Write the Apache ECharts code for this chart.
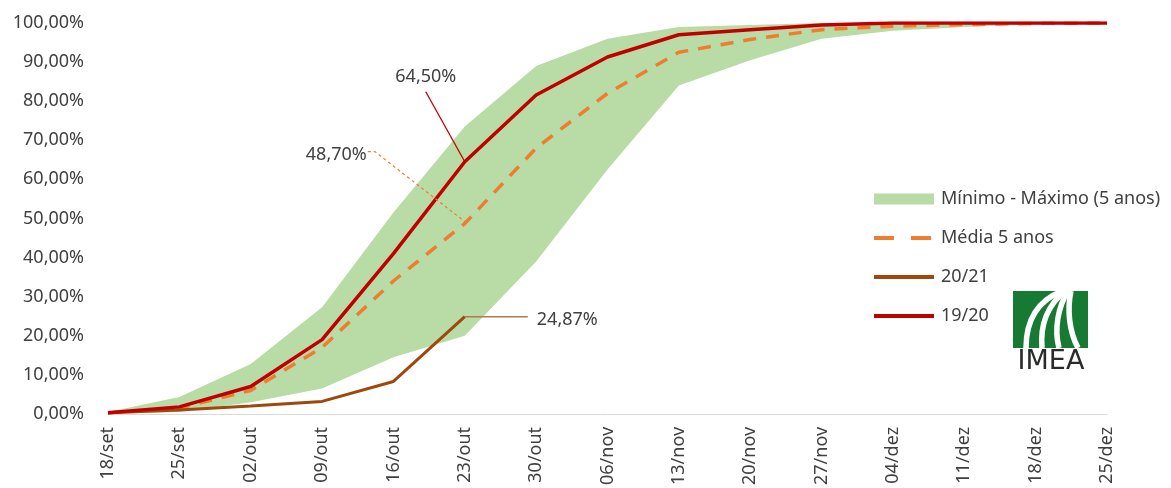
<!DOCTYPE html>
<html>
<head>
<meta charset="utf-8">
<script src="https://cdn.jsdelivr.net/npm/echarts@6/dist/echarts.min.js"></script>
<style>
html,body{margin:0;padding:0;background:#fff;}
#main{width:1171px;height:488px;}
</style>
</head>
<body>
<div id="main"></div>
<script>
var categories = ['18/set','25/set','02/out','09/out','16/out','23/out','30/out','06/nov','13/nov','20/nov','27/nov','04/dez','11/dez','18/dez','25/dez'];
var minVals = [0, 0.5, 3, 6.5, 14.5, 20, 39, 62.5, 84, 90.5, 96, 98, 99, 99.7, 100];
var maxVals = [0.5, 4.3, 12.8, 27.3, 51.5, 73.5, 89, 96, 99, 99.5, 100, 100, 100, 100, 100];
var media5 = [0.3, 1.5, 6, 17, 34, 48.7, 68, 82, 92.5, 95.8, 98.3, 99.2, 99.6, 99.9, 100];
var safra2021 = [0.3, 1, 2, 3.2, 8.3, 24.87, null, null, null, null, null, null, null, null, null];
var safra1920 = [0.3, 1.8, 7, 19, 41, 64.5, 81.6, 91.3, 97, 98.3, 99.5, 100, 100, 100, 100];
var yTicks = [0, 10, 20, 30, 40, 50, 60, 70, 80, 90, 100];

var bandDiff = maxVals.map(function(v, i){ return +(v - minVals[i]).toFixed(2); });
var fmt = function(v){ return v.toFixed(2).replace('.', ',') + '%'; };

var FONT = 'Noto Sans';
var TXT = '#404040';
var GREEN = '#b9dba5';
var ORANGE = '#ed7d31';
var BROWN = '#9e480e';
var RED = '#c00000';

var SOLID_ICON = 'path://M0,0H60V4H0Z';
var DASH_ICON = 'path://M0,0H20V4H0Z M37,0H57V4H37Z M59.9,0H60V4H59.9Z';

var chart = echarts.init(document.getElementById('main'));
chart.setOption({
  animation: false,
  grid: {left: 108, right: 64, top: 23, bottom: 73, containLabel: false},
  legend: {
    orient: 'vertical', left: 869, top: 185,
    itemWidth: 60, itemHeight: 11, itemGap: 21,
    textStyle: {fontFamily: FONT, fontSize: 18, color: TXT, padding: [0,0,0,2]},
    data: [
      {name: 'Mínimo - Máximo (5 anos)', icon: 'rect', itemStyle: {color: GREEN}},
      {name: 'Média 5 anos', icon: DASH_ICON, itemStyle: {color: ORANGE}},
      {name: '20/21', icon: SOLID_ICON, itemStyle: {color: BROWN}},
      {name: '19/20', icon: SOLID_ICON, itemStyle: {color: RED}}
    ]
  },
  xAxis: {
    type: 'category', data: categories, boundaryGap: false,
    axisLine: {show: true, lineStyle: {color: '#d9d9d9', width: 1}},
    axisTick: {show: false},
    axisLabel: {rotate: 90, margin: 13, fontFamily: FONT, fontSize: 18, color: TXT, interval: 0}
  },
  yAxis: {
    type: 'value', min: yTicks[0], max: yTicks[yTicks.length-1], interval: 10,
    axisLine: {show: false}, axisTick: {show: false}, splitLine: {show: false},
    axisLabel: {margin: 24, fontFamily: FONT, fontSize: 18, color: TXT, formatter: function(v){ return fmt(v); }}
  },
  series: [
    {name: 'min', type: 'line', stack: 'band', data: minVals, symbol: 'none',
     lineStyle: {opacity: 0, width: 0}, silent: true, z: 1},
    {name: 'Mínimo - Máximo (5 anos)', type: 'line', stack: 'band', data: bandDiff, symbol: 'none',
     lineStyle: {opacity: 0, width: 0}, areaStyle: {color: GREEN, opacity: 1}, itemStyle: {color: GREEN}, z: 1},
    {name: 'Média 5 anos', type: 'line', data: media5, symbol: 'none',
     lineStyle: {color: ORANGE, width: 3.5, type: [13, 10]}, itemStyle: {color: ORANGE}, z: 2},
    {name: '20/21', type: 'line', data: safra2021, symbol: 'none',
     lineStyle: {color: BROWN, width: 3}, itemStyle: {color: BROWN}, z: 3},
    {name: '19/20', type: 'line', data: safra1920, symbol: 'none',
     lineStyle: {color: RED, width: 3.5}, itemStyle: {color: RED}, z: 4}
  ]
});

// annotations anchored to the data points
var idx = 5;
var pR = chart.convertToPixel({xAxisIndex: 0, yAxisIndex: 0}, [categories[idx], safra1920[idx]]);
var pM = chart.convertToPixel({xAxisIndex: 0, yAxisIndex: 0}, [categories[idx], media5[idx]]);
var pB = chart.convertToPixel({xAxisIndex: 0, yAxisIndex: 0}, [categories[idx], safra2021[idx]]);

var annFont = {fontFamily: FONT, fontSize: 18, fill: TXT};
var LG = '#177a32';
var graphics = [
  {type: 'line', shape: {x1: pR[0]-39, y1: pR[1]-70, x2: pR[0], y2: pR[1]}, style: {stroke: RED, lineWidth: 1.3}, z: 10},
  {type: 'text', x: pR[0]-39, y: pR[1]-85, style: Object.assign({text: fmt(safra1920[idx]), align: 'center', verticalAlign: 'middle'}, annFont), z: 10},
  {type: 'polyline', shape: {points: [[pM[0]-97, pM[1]-72], [pM[0]-90, pM[1]-72], [pM[0], pM[1]-2]]}, style: {stroke: ORANGE, lineWidth: 1.2, lineDash: [3, 3], fill: null}, z: 10},
  {type: 'text', x: pM[0]-98, y: pM[1]-69, style: Object.assign({text: fmt(media5[idx]), align: 'right', verticalAlign: 'middle'}, annFont), z: 10},
  {type: 'line', shape: {x1: pB[0], y1: pB[1], x2: pB[0]+63, y2: pB[1]}, style: {stroke: '#b07a55', lineWidth: 1.5}, z: 10},
  {type: 'text', x: pB[0]+72, y: pB[1]+3, style: Object.assign({text: fmt(safra2021[idx]), align: 'left', verticalAlign: 'middle'}, annFont), z: 10},
  // IMEA logo
  {type: 'group', x: 1013, y: 291, z: 10, children: [
    {type: 'rect', shape: {x: 0, y: 0, width: 75, height: 57}, style: {fill: LG}},
    {type: 'bezierCurve', shape: {x1: 49, y1: 0, cpx1: 24, cpy1: 10, cpx2: 13, cpy2: 30, x2: 13, y2: 57}, style: {stroke: '#fff', lineWidth: 5.5, fill: null}},
    {type: 'bezierCurve', shape: {x1: 52, y1: 0, cpx1: 35, cpy1: 14, cpx2: 27, cpy2: 34, x2: 29, y2: 57}, style: {stroke: '#fff', lineWidth: 5.5, fill: null}},
    {type: 'bezierCurve', shape: {x1: 55, y1: 0, cpx1: 45, cpy1: 16, cpx2: 41, cpy2: 38, x2: 46, y2: 57}, style: {stroke: '#fff', lineWidth: 5.5, fill: null}},
    {type: 'bezierCurve', shape: {x1: 58, y1: 0, cpx1: 54, cpy1: 18, cpx2: 56, cpy2: 40, x2: 65, y2: 57}, style: {stroke: '#fff', lineWidth: 5.5, fill: null}},
    {type: 'rect', shape: {x: 0, y: -6, width: 75, height: 6}, style: {fill: '#fff'}},
    {type: 'rect', shape: {x: 75, y: 0, width: 8, height: 57}, style: {fill: '#fff'}},
    {type: 'rect', shape: {x: 0, y: 57, width: 75, height: 6}, style: {fill: '#fff'}},
    {type: 'text', x: 38, y: 71, style: {text: 'IMEA', align: 'center', verticalAlign: 'middle', fontFamily: 'DejaVu Sans', fontSize: 27, fill: '#2b2b2b'}}
  ]}
];
chart.setOption({graphic: graphics});
</script>
</body>
</html>
